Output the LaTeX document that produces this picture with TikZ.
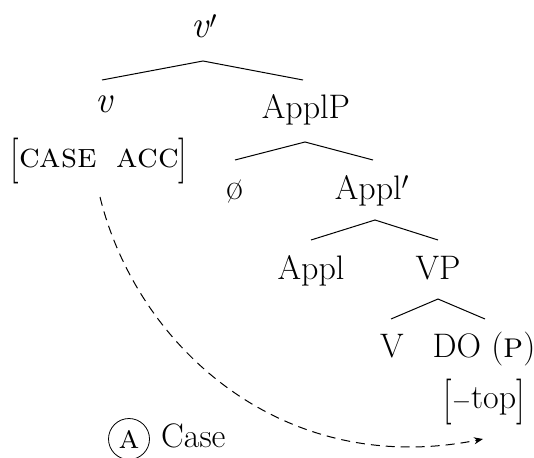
\documentclass[tikz,border=0pt]{standalone}
\usepackage{graphicx}
\usetikzlibrary{arrows.meta}
\newcommand{\lbrk}{\raisebox{-5pt}{\scalebox{1}[1.35]{[}}}
\newcommand{\rbrk}{\raisebox{-5pt}{\scalebox{1}[1.35]{]}}}
\begin{document}
\begin{tikzpicture}[x=1pt,y=-1pt,
  every node/.style={font=\fontsize{34}{40}\selectfont, inner sep=0pt},
  lbl/.style={anchor=base},
  bigit/.style={font=\fontsize{38}{44}\selectfont},
  edge/.style={line width=1pt},
  casearrow/.style={line width=1pt, dash pattern=on 9pt off 6pt, -{Stealth[length=9pt,width=7pt]}}]
\useasboundingbox (0,0) rectangle (534,457);
% nodes
\node[lbl, bigit] (vbar) at (204,38) {\textit{v}$'$};
\node[lbl, bigit] (v) at (105,113) {\textit{v}};
\node[lbl] (applp) at (306,119) {ApplP};
\node[lbl] (feat) at (99,167) {\lbrk{\fontsize{35}{40}\selectfont\textsc{case}\hspace{20pt}\textsc{acc}}\rbrk};
\node[lbl] (null) at (235,199) {\fontsize{37}{42}\selectfont\o};
\node[lbl] (applbar) at (372,199) {Appl$'$};
\node[lbl] (appl) at (311,279) {Appl};
\node[lbl] (vp) at (438,279) {VP};
\node[lbl] (V) at (392,357) {V};
\node[lbl] (do) at (484,357) {DO ({\fontsize{36}{40}\selectfont\textsc{p}})};
\node[lbl] (top) at (484,408) {\lbrk$-$top\rbrk};
\node[circle, draw, line width=0.8pt, minimum size=41pt] (A) at (129,439) {\textsc{a}};
\node[anchor=base west] (case) at (161,447) {Case};
% edge points
\coordinate (vbar-s) at (203,61);
\coordinate (v-n) at (102,80);
\coordinate (applp-n) at (303,80);
\coordinate (applp-s) at (305,142);
\coordinate (null-n) at (235,160);
\coordinate (applbar-n) at (373,160);
\coordinate (applbar-s) at (375,220);
\coordinate (appl-n) at (311,240);
\coordinate (vp-n) at (438,240);
\coordinate (vp-s) at (438,299);
\coordinate (V-n) at (391,319);
\coordinate (do-n) at (485,319);
\coordinate (feat-s) at (100,197);
\coordinate (top-sw) at (483,439);
% edges
\draw[edge] (v-n) -- (vbar-s) -- (applp-n);
\draw[edge] (null-n) -- (applp-s) -- (applbar-n);
\draw[edge] (appl-n) -- (applbar-s) -- (vp-n);
\draw[edge] (V-n) -- (vp-s) -- (do-n);
\draw[casearrow] (feat-s) .. controls (137,347) and (283,479) .. (top-sw);
\end{tikzpicture}
\end{document}
